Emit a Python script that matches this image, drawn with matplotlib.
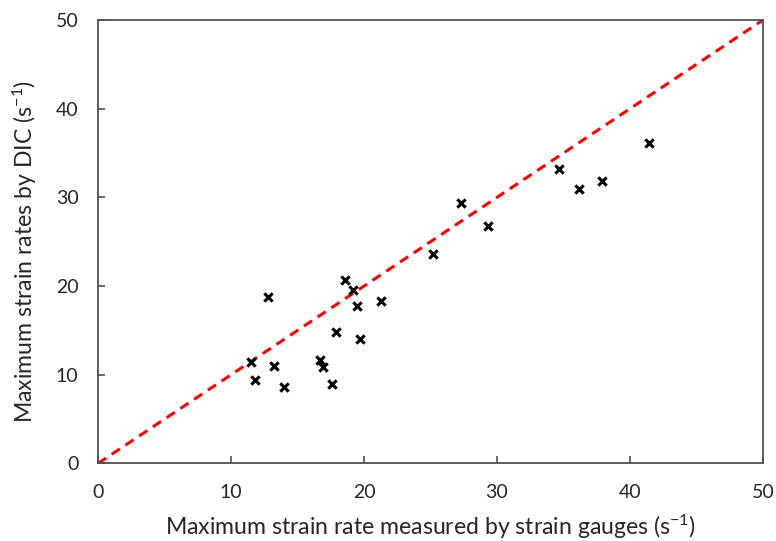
import matplotlib
matplotlib.use("Agg")
import matplotlib.pyplot as plt

# Maximum strain rates (s^-1): strain gauges vs. DIC
gauge_rate = [11.5, 11.8, 12.8, 13.2, 14.0, 16.7, 16.9, 17.6, 17.9, 18.6, 19.2,
              19.5, 19.7, 21.3, 25.2, 27.3, 29.3, 34.7, 36.2, 37.9, 41.4]
dic_rate = [11.4, 9.4, 18.8, 11.0, 8.6, 11.7, 10.9, 9.0, 14.8, 20.7, 19.6,
            17.8, 14.0, 18.3, 23.6, 29.4, 26.8, 33.2, 31.0, 31.9, 36.1]
ticks = [0, 10, 20, 30, 40, 50]
line_of_equality = [0, 50]

plt.rcParams['font.family'] = ['Lato', 'DejaVu Sans']
plt.rcParams['mathtext.fontset'] = 'custom'
plt.rcParams['mathtext.rm'] = 'Lato'
plt.rcParams['mathtext.it'] = 'Lato:italic'

fig = plt.figure(figsize=(7.76, 5.41), dpi=100)
ax = fig.add_axes([0.1263, 0.1433, 0.8569, 0.8197])

ax.plot(line_of_equality, line_of_equality, color='#ff0000', linestyle=(0, (3.2, 2.2)),
        linewidth=2.2, zorder=1)
ax.scatter(gauge_rate, dic_rate, marker='x', s=36, color='black', linewidths=2.2, zorder=2)

ax.set_xlim(0, 50)
ax.set_ylim(0, 50)
ax.set_xticks(ticks)
ax.set_yticks(ticks)

grey = '#505050'
for side in ['left', 'bottom', 'top', 'right']:
    ax.spines[side].set_color(grey)
    ax.spines[side].set_linewidth(1.3)
ax.tick_params(direction='in', length=5, width=1.2, color=grey, labelsize=14,
               labelcolor='#262626')
ax.tick_params(axis='x', pad=15)
ax.tick_params(axis='y', pad=14)

ax.set_xlabel('Maximum strain rate measured by strain gauges (s$^{\\mathregular{-1}}$)',
              fontsize=16.6, color='#262626', labelpad=8)
ax.set_ylabel('Maximum strain rates by DIC (s$^{\\mathregular{-1}}$)', fontsize=16.6,
              color='#262626', labelpad=12)
ax.yaxis.label.set_y(0.479)

fig.savefig('out.png', dpi=100)
